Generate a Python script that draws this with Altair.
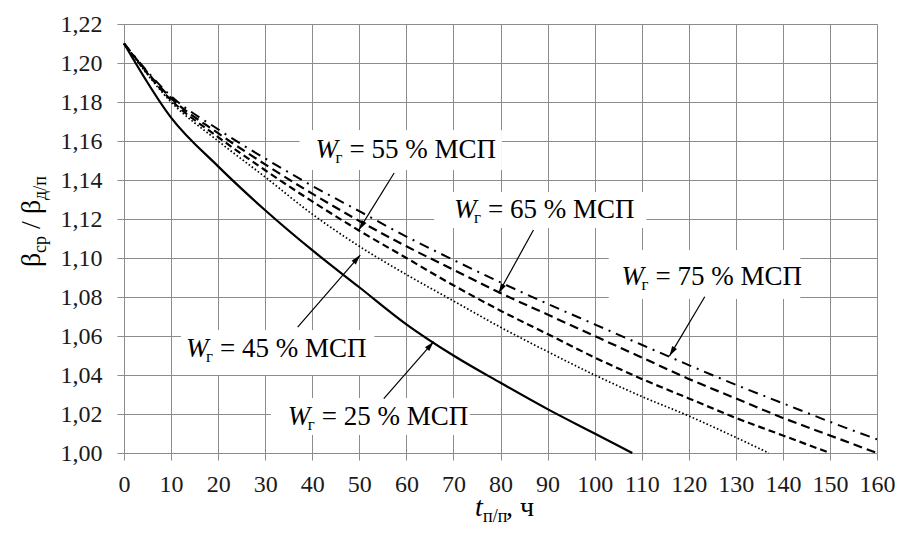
import math
import altair as alt
import pandas as pd

FONT = "Liberation Serif"
W, H = 753, 429
X_MIN, X_MAX = 0, 160
Y_MIN, Y_MAX = 1.00, 1.22

# ---------------- data ----------------
X_TICKS = list(range(0, 161, 10))
Y_TICKS = [round(1.00 + 0.02 * i, 2) for i in range(12)]

t_25 = [0, 10, 20, 30, 40, 50, 60, 70, 80, 90, 100, 108]
v_25 = [1.210, 1.172, 1.147, 1.1245, 1.104, 1.085, 1.066, 1.050, 1.036, 1.0225, 1.010, 1.000]

t_45 = [0, 10, 20, 30, 40, 50, 60, 70, 80, 90, 100, 110, 120, 130, 137]
v_45 = [1.210, 1.180, 1.160, 1.1415, 1.1225, 1.106, 1.0915, 1.078, 1.0645, 1.052, 1.040,
        1.029, 1.019, 1.008, 1.000]

t_55 = [0, 10, 20, 30, 40, 50, 60, 70, 80, 90, 100, 110, 120, 130, 140, 150]
v_55 = [1.210, 1.181, 1.162, 1.145, 1.129, 1.114, 1.100, 1.086, 1.073, 1.061, 1.049,
        1.038, 1.028, 1.018, 1.009, 1.000]

t_65 = [0, 10, 20, 30, 40, 50, 60, 70, 80, 90, 100, 110, 120, 130, 140, 150, 160]
v_65 = [1.210, 1.182, 1.164, 1.148, 1.133, 1.119, 1.106, 1.094, 1.082, 1.071, 1.060,
        1.049, 1.038, 1.028, 1.018, 1.009, 1.000]

t_75 = [0, 10, 20, 30, 40, 50, 60, 70, 80, 90, 100, 110, 120, 130, 140, 150, 160]
v_75 = [1.210, 1.183, 1.166, 1.151, 1.137, 1.124, 1.111, 1.099, 1.0875, 1.0765, 1.066,
        1.0555, 1.0451, 1.035, 1.0255, 1.016, 1.007]

series = {"25": (t_25, v_25), "45": (t_45, v_45), "55": (t_55, v_55),
          "65": (t_65, v_65), "75": (t_75, v_75)}

# annotations
NB = "\u00a0"
ann_rest = [f"={NB}55{NB}%{NB}МСП", f"={NB}65{NB}%{NB}МСП", f"={NB}75{NB}%{NB}МСП",
            f"={NB}45{NB}%{NB}МСП", f"={NB}25{NB}%{NB}МСП"]
ann_x = [40.7, 70.1, 105.7, 13.2, 34.8]
ann_y = [1.1513, 1.1205, 1.0862, 1.0492, 1.0144]

box_x1 = [37.3, 65.9, 103.0, 12.1, 31.2]
box_x2 = [80.3, 111.0, 143.7, 53.2, 73.5]
box_y1 = [1.1451, 1.1154, 1.0790, 1.0400, 1.0092]
box_y2 = [1.1656, 1.1338, 1.1041, 1.0631, 1.0282]

arr_x1 = [57.4, 87.0, 123.4, 36.9, 55.2]
arr_y1 = [1.1436, 1.1144, 1.0801, 1.0646, 1.0279]
arr_x2 = [49.9, 79.6, 115.9, 50.2, 65.8]
arr_y2 = [1.1144, 1.0819, 1.0497, 1.1015, 1.0571]

# ---------------- helpers ----------------
px_per_x = W / (X_MAX - X_MIN)
px_per_y = H / (Y_MAX - Y_MIN)
arr_angle = []
for a, b, c, d in zip(arr_x1, arr_y1, arr_x2, arr_y2):
    dx = (c - a) * px_per_x
    dy_up = (d - b) * px_per_y
    arr_angle.append(math.degrees(math.atan2(dx, dy_up)) % 360)

xs = alt.Scale(domain=[X_MIN, X_MAX], nice=False, zero=False)
ys = alt.Scale(domain=[Y_MIN, Y_MAX], nice=False, zero=False)

GRID = "#8c8c8c"
x_axis = alt.Axis(values=X_TICKS, title=None, grid=True, gridColor=GRID, gridWidth=1,
                  domainColor=GRID, tickColor=GRID, tickSize=7, labelFont=FONT,
                  labelFontSize=24, labelColor="#1a1a1a", labelPadding=12,
                  labelFlush=False, labelOverlap=False)
y_axis = alt.Axis(values=Y_TICKS, title=None, grid=True, gridColor=GRID, gridWidth=1,
                  domainColor=GRID, tickColor=GRID, tickSize=7, labelFont=FONT,
                  labelFontSize=24, labelColor="#1a1a1a", labelPadding=15,
                  labelFlush=False, labelOverlap=False,
                  labelExpr="replace(format(datum.value, '.2f'), '.', ',')")


def X(field):
    return alt.X(field, scale=xs, axis=x_axis)


def Y(field):
    return alt.Y(field, scale=ys, axis=y_axis)


styles = {
    "25": dict(strokeWidth=2.2),
    "45": dict(strokeWidth=1.7, strokeDash=[1.6, 2.2]),
    "55": dict(strokeWidth=2.2, strokeDash=[7, 4]),
    "65": dict(strokeWidth=2.2, strokeDash=[9, 5]),
    "75": dict(strokeWidth=2.0, strokeDash=[10, 6, 2, 6]),
}

layers = []
for name, (tt, vv) in series.items():
    df = pd.DataFrame({"t": tt, "v": vv})
    layers.append(alt.Chart(df).mark_line(color="black", interpolate="monotone",
                                          **styles[name]).encode(x=X("t:Q"), y=Y("v:Q")))

box_df = pd.DataFrame({"x1": box_x1, "x2": box_x2, "y1": box_y1, "y2": box_y2})
layers.append(alt.Chart(box_df).mark_rect(color="white").encode(
    x=X("x1:Q"), x2="x2:Q", y=Y("y1:Q"), y2="y2:Q"))

arr_df = pd.DataFrame({"x1": arr_x1, "y1": arr_y1, "x2": arr_x2, "y2": arr_y2,
                       "ang": arr_angle})
layers.append(alt.Chart(arr_df).mark_rule(color="black", strokeWidth=1.2).encode(
    x=X("x1:Q"), x2="x2:Q", y=Y("y1:Q"), y2="y2:Q"))
layers.append(alt.Chart(arr_df).mark_point(
    shape="M0,0L0.28,1L-0.28,1Z", filled=True, color="black", opacity=1, size=400,
    strokeWidth=0).encode(
    x=X("x2:Q"), y=Y("y2:Q"), angle=alt.Angle("ang:Q", scale=None)))

ann_df = pd.DataFrame({"x": ann_x, "y": ann_y, "rest": ann_rest})
layers.append(alt.Chart(ann_df).mark_text(
    font=FONT, fontSize=27, fontStyle="italic", align="left", baseline="alphabetic",
    color="black").encode(x=X("x:Q"), y=Y("y:Q"), text=alt.value("W")))
layers.append(alt.Chart(ann_df).mark_text(
    font=FONT, fontSize=17, align="left", baseline="alphabetic", color="black",
    dx=20, dy=5).encode(x=X("x:Q"), y=Y("y:Q"), text=alt.value("г")))
layers.append(alt.Chart(ann_df).mark_text(
    font=FONT, fontSize=27, align="left", baseline="alphabetic", color="black",
    dx=34).encode(x=X("x:Q"), y=Y("y:Q"), text="rest:N"))

# ---------------- axis titles (with subscripts) ----------------
one = pd.DataFrame({"a": [0]})


def piece(txt, px, py, size, angle=0, italic=False):
    kw = dict(font=FONT, fontSize=size, align="left", baseline="alphabetic",
              color="black")
    if angle:
        kw["angle"] = angle
    if italic:
        kw["fontStyle"] = "italic"
    return alt.Chart(one).mark_text(**kw).encode(
        x=alt.value(px), y=alt.value(py), text=alt.value(txt))


# y title: rotated, reads bottom to top
yb = -84
layers += [
    piece("β", yb, 243, 28, 270),
    piece("ср", yb + 6, 229, 18, 270),
    piece("/", yb, 205, 28, 270),
    piece("β", yb, 190, 28, 270),
    piece("д/п", yb + 6, 176, 18, 270),
]
# x title
xb = 492
layers += [
    piece("t", 351, xb, 28, italic=True),
    piece("п/п", 359, xb + 6, 18),
    piece(",\u00a0ч", 382, xb, 28),
]

chart = alt.layer(*layers).properties(
    width=W, height=H,
    padding={"left": 116, "top": 16, "right": 18, "bottom": 78},
    autosize=alt.AutoSizeParams(type="none"),
).configure_view(strokeWidth=0).configure(background="white")

chart.save("out.html", embed_options={"renderer": "svg", "actions": False})
